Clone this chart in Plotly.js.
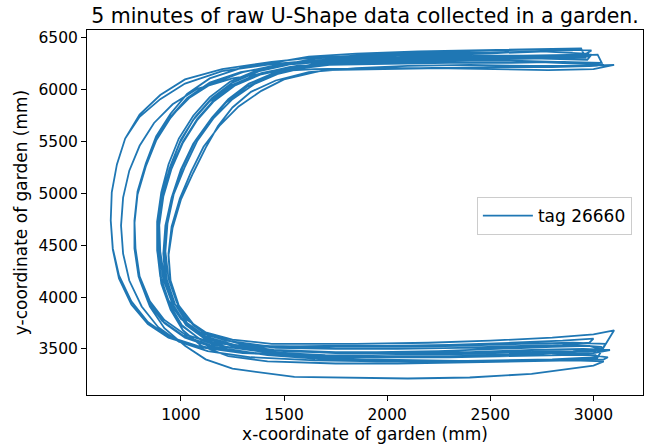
<!DOCTYPE html>
<html>
<head>
<meta charset="utf-8">
<script src="https://cdn.plot.ly/plotly-3.0.1.min.js"></script>
<style>html,body{margin:0;padding:0;background:#fff;}#chart{width:650px;height:447px;}</style>
</head>
<body>
<div id="chart"></div>
<script>
const chartTitle = "5 minutes of raw U-Shape data collected in a garden.";
const xLabel = "x-coordinate of garden (mm)";
const yLabel = "y-coordinate of garden (mm)";
const seriesName = "tag 26660";

// x positions (mm), lap by lap
const xPos = [
 3050,2850,2600,2300,2000,1760, 1550,1390,1260,1160,1080,1010,955,915,895,890,905,945,1000,1090,1220,1410, 1700,2000,2300,2600,2850,3010,
 3040,2900,2650,2350,2050,1750, 1460,1270,1130,1040,980,940,925,935,965,1020,1080,1160,1250,1360,1490,1640, 1850,2100,2400,2650,2850,2980,
 2960,2750,2500,2200,1900,1640, 1440,1200,1020,900,800,730,690,665,660,670,700,760,840,940,1080,1300, 1600,1900,2200,2500,2800,3050,
 3070,2950,2700,2400,2100,1750, 1430,1240,1110,1020,960,915,895,895,915,955,1010,1080,1160,1260,1390,1560, 1800,2100,2400,2650,2850,3000,
 3020,2800,2550,2250,1950,1700, 1650,1500,1390,1280,1190,1110,1050,995,955,940,950,990,1060,1150,1290,1480, 1750,2050,2350,2650,2850,2980,
 3000,2850,2600,2300,2000,1700, 1360,1150,1020,920,850,800,780,775,790,830,880,950,1030,1140,1290,1500, 1750,2000,2300,2550,2800,2950,
 2990,2780,2500,2200,1900,1650, 1540,1370,1240,1140,1060,990,940,905,885,885,905,945,1005,1095,1225,1420, 1700,2000,2300,2600,2850,3020,
 3010,2850,2600,2300,2000,1700, 1300,1080,940,840,760,700,670,660,665,690,730,800,900,1020,1200,1450, 1700,2000,2300,2550,2800,2990,
 2970,2750,2500,2200,1900,1680, 1600,1450,1330,1230,1150,1070,1010,960,930,920,930,970,1030,1120,1260,1450, 1750,2050,2350,2650,2900,3040,
 3060,2900,2650,2350,2050,1750, 1410,1220,1090,1000,940,900,885,890,910,950,1000,1070,1150,1250,1380,1540, 1800,2100,2400,2700,2900,2950,
 2980,2760,2500,2200,1900,1650, 1500,1290,1140,1030,950,880,830,790,775,780,800,850,920,1020,1120,1250, 1550,1800,2100,2400,2700,3000,
 3050,2900,2650,2350,2050,1750, 1420,1230,1100,1010,950,905,890,890,910,950,1005,1075,1155,1255,1385,1550, 1800,2100,2400,2700,2900,2960,
 2940,2700,2450,2150,1850,1620, 1500,1290,1140,1030,950,880,830,790,775,780,800,850,920,1020,1150,1360, 1650,1950,2250,2550,2800,3000,
 3080,2950,2700,2400,2100,1800, 1480,1290,1150,1060,990,950,940,960,1000,1060,1120,1180,1250,1340,1460,1620, 1850,2100,2400,2700,2950,3100,
 3000,2780,2520,2220,1920,1650, 1470,1250,1080,960,870,800,750,720,710,720,750,810,890,990,1130,1340, 1650,1950,2250,2550,2800,3020,
 3100,3000,2800,2500,2200,1850, 1440,1250,1120,1030,965,920,900,895,910,945,995,1060,1140,1240,1370,1530, 1800,2100,2400,2650,2900,3020,
 3040,2850,2600,2300,2000,1720, 1590,1440,1320,1220,1140,1060,1000,955,925,915,925,965,1025,1115,1250,1440, 1750,2050,2350,2650,2900,3050,
 2980,2800,2550,2250,1950,1650, 1350,1140,1010,910,840,795,775,775,790,830,880,950,1040,1150,1300,1490, 1750,2050,2350,2650,2850,2900
];
// y positions (mm), same order
const yPos = [
 6240,6260,6280,6290,6280,6260, 6220,6150,6040,5890,5710,5490,5240,4970,4690,4420,4160,3920,3730,3600,3520,3470, 3440,3430,3430,3440,3460,3480,
 3520,3540,3530,3510,3500,3500, 3510,3560,3640,3770,3950,4180,4440,4710,4990,5260,5510,5730,5910,6060,6170,6240, 6280,6300,6300,6310,6320,6340,
 6350,6370,6360,6350,6330,6310, 6270,6200,6100,5950,5760,5530,5280,5010,4740,4470,4210,3960,3760,3620,3530,3470, 3420,3400,3390,3380,3390,3400,
 3420,3450,3470,3470,3470,3470, 3490,3540,3620,3750,3930,4170,4440,4710,4980,5250,5500,5720,5900,6050,6160,6230, 6260,6270,6280,6280,6270,6260,
 6230,6220,6220,6210,6200,6190, 6170,6100,5990,5840,5660,5450,5210,4950,4680,4420,4160,3920,3740,3620,3550,3520, 3500,3500,3510,3520,3540,3560,
 3600,3580,3560,3540,3530,3530, 3520,3560,3640,3780,3960,4200,4460,4730,5000,5270,5520,5740,5920,6060,6170,6240, 6280,6300,6310,6320,6320,6330,
 6380,6390,6380,6360,6340,6300, 6260,6190,6080,5930,5750,5530,5280,5010,4730,4450,4180,3930,3730,3590,3500,3440, 3400,3390,3380,3380,3390,3410,
 3440,3440,3430,3420,3420,3430, 3460,3520,3610,3740,3930,4180,4460,4740,5010,5280,5530,5740,5910,6060,6180,6250, 6290,6310,6320,6330,6330,6340,
 6290,6300,6300,6290,6280,6260, 6230,6160,6060,5910,5730,5510,5260,4990,4710,4440,4180,3940,3750,3620,3540,3490, 3470,3460,3460,3470,3480,3500,
 3550,3560,3550,3530,3520,3520, 3530,3580,3660,3790,3970,4200,4460,4730,5000,5270,5520,5740,5920,6070,6180,6250, 6290,6310,6320,6330,6340,6340,
 6320,6330,6330,6320,6300,6280, 6240,6170,6070,5920,5730,5510,5260,4990,4710,4440,4170,3910,3700,3530,3400,3310, 3230,3220,3215,3225,3260,3340,
 3380,3390,3380,3370,3360,3360, 3380,3430,3530,3680,3880,4130,4400,4680,4960,5230,5480,5700,5890,6040,6150,6220, 6260,6280,6290,6300,6310,6310,
 6400,6390,6380,6370,6350,6320, 6280,6210,6110,5960,5770,5550,5290,5020,4740,4470,4200,3950,3750,3610,3520,3460, 3430,3420,3420,3430,3440,3460,
 3490,3500,3490,3470,3460,3460, 3480,3520,3600,3730,3900,4140,4400,4670,4940,5200,5440,5650,5830,5980,6090,6170, 6210,6230,6240,6230,6230,6240,
 6200,6190,6200,6210,6210,6200, 6180,6110,6010,5860,5680,5460,5220,4960,4690,4420,4160,3910,3710,3570,3480,3420, 3390,3380,3380,3390,3400,3420,
 3680,3640,3610,3580,3560,3550, 3550,3590,3660,3780,3950,4180,4440,4710,4980,5240,5490,5710,5890,6040,6150,6220, 6270,6290,6310,6320,6330,6340,
 6260,6270,6260,6260,6250,6240, 6210,6140,6030,5880,5700,5480,5230,4960,4690,4420,4160,3920,3730,3600,3530,3490, 3460,3450,3450,3460,3470,3490,
 3530,3520,3500,3480,3470,3470, 3490,3540,3630,3770,3960,4200,4470,4740,5010,5280,5520,5740,5920,6060,6170,6250, 6300,6330,6340,6360,6370,6380
];

const font = "DejaVu Sans, sans-serif";
const trace = {
  x: xPos, y: yPos, type: "scatter", mode: "lines", name: seriesName,
  line: {color: "#1f77b4", width: 1.8}
};
const axisCommon = {
  showgrid: false, zeroline: false, showline: true, mirror: true,
  linecolor: "#000", linewidth: 1, ticks: "outside", ticklen: 5, tickwidth: 1,
  tickcolor: "#000", tickfont: {family: font, size: 15.5, color: "#000"}
};
const layout = {
  width: 650, height: 447,
  margin: {l: 87, r: 7, t: 30, b: 52},
  paper_bgcolor: "#fff", plot_bgcolor: "#fff",
  font: {family: font, color: "#000"},
  title: {text: chartTitle, font: {family: font, size: 20.5, color: "#000"},
          x: 0.5, xref: "paper", xanchor: "center", y: 0.965, yref: "container", yanchor: "middle"},
  xaxis: Object.assign({}, axisCommon, {range: [545, 3240], dtick: 500, tick0: 0,
          title: {text: xLabel, font: {family: font, size: 17, color: "#000"}, standoff: 4}}),
  yaxis: Object.assign({}, axisCommon, {range: [3056, 6577], dtick: 500, tick0: 0,
          title: {text: yLabel, font: {family: font, size: 17, color: "#000"}, standoff: 6}}),
  showlegend: true,
  legend: {x: 0.98, xanchor: "right", y: 0.49, yanchor: "middle", itemwidth: 50,
           bgcolor: "#fff", bordercolor: "#cccccc", borderwidth: 1,
           font: {family: font, size: 17, color: "#000"}}
};
Plotly.newPlot("chart", [trace], layout, {displayModeBar: false, staticPlot: true});
</script>
</body>
</html>
